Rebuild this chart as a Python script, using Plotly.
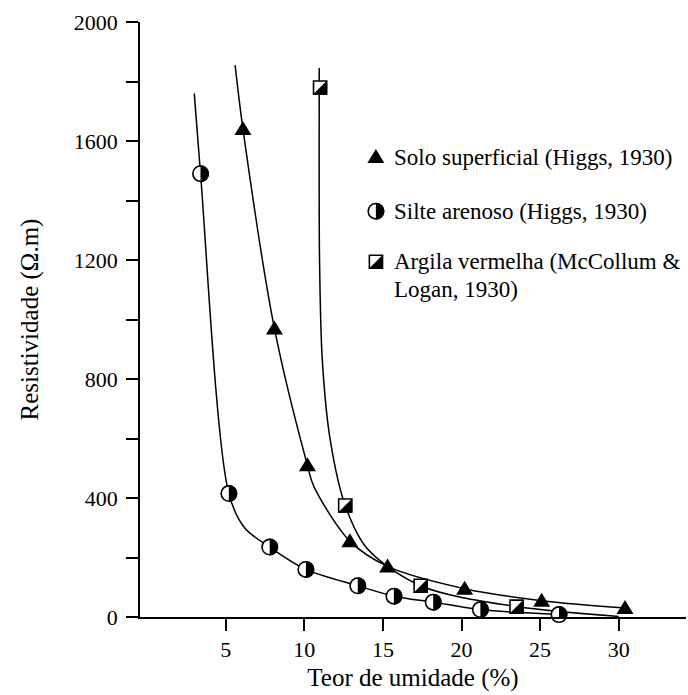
import plotly.graph_objects as go

# ---- data ----
solo_x = [6.1, 8.1, 10.2, 12.9, 15.3, 20.2, 25.1, 30.4]
solo_y = [1640, 970, 510, 255, 170, 95, 55, 30]

silte_x = [3.4, 5.2, 7.8, 10.1, 13.4, 15.7, 18.2, 21.2, 26.2]
silte_y = [1490, 415, 235, 160, 105, 70, 50, 25, 8]

argila_x = [11.0, 12.6, 17.4, 23.5]
argila_y = [1780, 375, 105, 35]

# fitted curves as drawn
solo_fit_x = [5.6, 6.1, 8.1, 10.2, 10.6, 12.9, 15.3, 20.2, 25.1, 30.4]
solo_fit_y = [1855, 1640, 970, 510, 440, 255, 170, 95, 55, 30]

silte_fit_x = [3.0, 3.4, 5.2, 6.2, 7.8, 10.1, 13.4, 15.7, 18.2, 21.2, 26.2]
silte_fit_y = [1760, 1490, 415, 300, 235, 160, 105, 70, 50, 25, 8]

argila_fit_x = [10.95, 10.95, 10.97, 11.15, 11.65, 12.6, 14.0, 17.4, 23.5, 30.0]
argila_fit_y = [1845, 1780, 1200, 860, 595, 375, 230, 105, 35, 2]

y_ticks = [0, 200, 400, 600, 800, 1000, 1200, 1400, 1600, 1800, 2000]
y_labels = ["0", "", "400", "", "800", "", "1200", "", "1600", "", "2000"]
x_ticks = [5, 10, 15, 20, 25, 30]

legend_lines = [
    "Solo superficial (Higgs, 1930)",
    "Silte arenoso (Higgs, 1930)",
    "Argila vermelha (McCollum &",
    "Logan, 1930)",
]

SERIF = "Liberation Serif, Times New Roman, serif"
LINE = dict(color="black", width=1.5)
K = 0.5523


def half_disk(r):
    k = K * r
    return (f"M 0,{r} C {k},{r} {r},{k} {r},0 C {r},{-k} {k},{-r} 0,{-r} Z")


def full_disk(r):
    k = K * r
    return (f"M 0,{r} C {k},{r} {r},{k} {r},0 C {r},{-k} {k},{-r} 0,{-r} "
            f"C {-k},{-r} {-r},{-k} {-r},0 C {-r},{k} {-k},{r} 0,{r} Z")


def tri_path():
    return "M -8.5,-6 L 8.5,-6 L 0,8 Z"


def sq_half(r):
    return f"M {r},{r} L {r},{-r} L {-r},{-r} Z"


def sym(path, x, y, xref, yref, fill="black", lw=0):
    return dict(type="path", path=path, xref=xref, yref=yref, xsizemode="pixel", ysizemode="pixel",
                xanchor=x, yanchor=y, fillcolor=fill, layer="above",
                line=dict(color="black", width=lw))


fig = go.Figure()

for fx, fy in [(solo_fit_x, solo_fit_y), (silte_fit_x, silte_fit_y), (argila_fit_x, argila_fit_y)]:
    fig.add_trace(go.Scatter(x=fx, y=fy, mode="lines", line=dict(shape="spline", smoothing=0.9, **LINE),
                             hoverinfo="skip", showlegend=False, cliponaxis=False))

# outlines of half-filled markers
fig.add_trace(go.Scatter(x=silte_x, y=silte_y, mode="markers", showlegend=False, cliponaxis=False,
                         marker=dict(symbol="circle", size=15.4, color="white",
                                     line=dict(color="black", width=1.6))))
fig.add_trace(go.Scatter(x=argila_x, y=argila_y, mode="markers", showlegend=False, cliponaxis=False,
                         marker=dict(symbol="square", size=13, color="white",
                                     line=dict(color="black", width=1.6))))

shapes = []
for x, y in zip(solo_x, solo_y):
    shapes.append(sym(tri_path(), x, y, "x", "y"))
for x, y in zip(silte_x, silte_y):
    shapes.append(sym(half_disk(8.5), x, y, "x", "y"))
for x, y in zip(argila_x, argila_y):
    shapes.append(sym(sq_half(7.3), x, y, "x", "y"))

# legend symbols (paper coordinates)
LX = 0.432
leg_y = [0.773, 0.682, 0.597]
shapes.append(sym(tri_path(), LX, leg_y[0], "paper", "paper"))
shapes.append(sym(full_disk(7.7), LX, leg_y[1], "paper", "paper", fill="white", lw=1.6))
shapes.append(sym(half_disk(8.5), LX, leg_y[1], "paper", "paper"))
shapes.append(sym("M -6.5,-6.5 L 6.5,-6.5 L 6.5,6.5 L -6.5,6.5 Z", LX, leg_y[2], "paper", "paper",
                  fill="white", lw=1.6))
shapes.append(sym(sq_half(7.3), LX, leg_y[2], "paper", "paper"))

text_y = [0.773, 0.682, 0.597, 0.550]
for t, yy in zip(legend_lines, text_y):
    fig.add_annotation(xref="paper", yref="paper", x=0.4615, y=yy, text=t, showarrow=False,
                       xanchor="left", yanchor="middle", align="left",
                       font=dict(family=SERIF, size=23, color="black"))

fig.update_layout(
    width=688, height=695,
    margin=dict(l=140, r=2, t=22, b=78),
    paper_bgcolor="white", plot_bgcolor="white",
    font=dict(family=SERIF, size=22, color="black"),
    showlegend=False,
    shapes=shapes,
)
fig.update_xaxes(range=[-0.45, 34.28], tickvals=x_ticks, ticks="outside", ticklen=12, tickwidth=1.5,
                 tickcolor="black", showline=True, linecolor="black", linewidth=1.5, showgrid=False,
                 zeroline=False, tickfont=dict(size=22), ticklabelstandoff=0,
                 title=dict(text="Teor de umidade (%)", font=dict(size=25), standoff=7))
fig.update_yaxes(range=[0, 2000], tickvals=y_ticks, ticktext=y_labels, ticks="outside", ticklen=12,
                 tickwidth=1.5, tickcolor="black", showline=True, linecolor="black", linewidth=1.5,
                 showgrid=False, zeroline=False, tickfont=dict(size=22), ticklabelstandoff=4,
                 title=dict(text="Resistividade (\u03A9.m)", font=dict(size=25), standoff=28))

fig.write_html("out.html")
